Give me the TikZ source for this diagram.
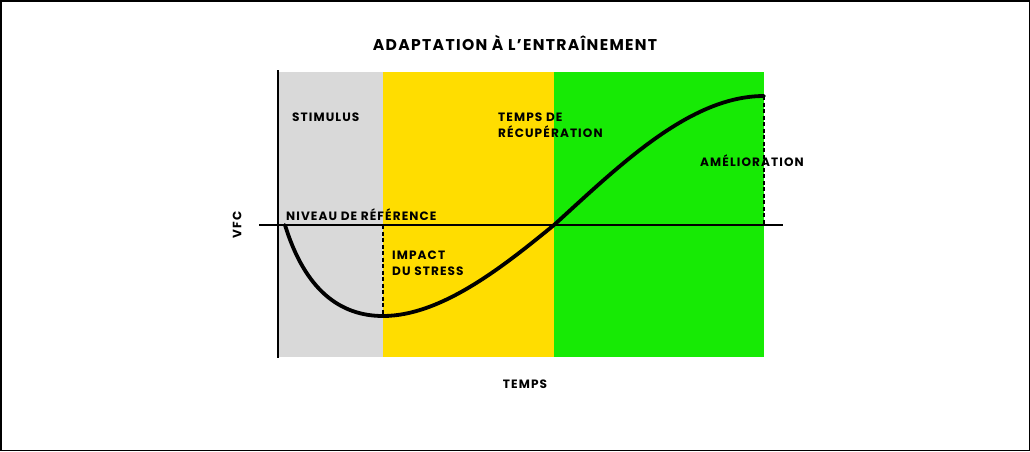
\documentclass[tikz,border=0pt]{standalone}
\usepackage{fontspec}
\setmainfont{Poppins}[UprightFont=*-SemiBold,BoldFont=*-Bold]
\newfontfamily\lblfont{Poppins}[UprightFont=*-Bold,LetterSpace=9]
\newfontfamily\ttlfont{Poppins}[UprightFont=*-Bold,LetterSpace=8.5]
\definecolor{zgray}{HTML}{D9D9D9}
\definecolor{zyellow}{HTML}{FFDD00}
\definecolor{zgreen}{HTML}{17EA05}
\begin{document}
\begin{tikzpicture}[x=1pt,y=-1pt,
  lbl/.style={font=\lblfont\fontsize{12.1}{16}\selectfont,inner sep=0pt,align=left,text=black},
  axisline/.style={line width=2.8pt,black},
  curveline/.style={line width=3.8pt,black,line cap=round},
  dashline/.style={line width=1.4pt,black,dash pattern=on 4pt off 2.5pt}]
\useasboundingbox (0,0) rectangle (1030,451);
\draw[line width=1.5pt] (0.75,0.75) rectangle (1029.25,450.25);
\fill[zgray] (279,72) rectangle (383,357);
\fill[zyellow] (383,72) rectangle (554,357);
\fill[zgreen] (554,72) rectangle (764,357);
\coordinate (ytop) at (278,70);
\coordinate (ybot) at (278,358);
\coordinate (xl) at (259,225);
\coordinate (xr) at (783,225);
\coordinate (c0) at (285,225);
\coordinate (cmin) at (383,316);
\coordinate (cmid) at (554,225);
\coordinate (cmax) at (764,96);
\coordinate (d1) at (383,225);
\coordinate (d2) at (764,225);
\draw[dashline] (d1) -- (cmin);
\draw[dashline] (cmax) -- (d2);
\draw[axisline] (ytop) -- (ybot);
\draw[axisline] (xl) -- (xr);
\draw[curveline] (c0) .. controls (305,290) and (340,316) .. (cmin)
  .. controls (442,316) and (505,265) .. (cmid)
  .. controls (620,165) and (690,96) .. (cmax);
\node[font=\ttlfont\fontsize{15.6}{18}\selectfont,inner sep=0pt] (title) at (515,43) {ADAPTATION À L’ENTRAÎNEMENT};
\node[lbl,anchor=west] (stim) at (292,117) {STIMULUS};
\node[lbl,anchor=west] (rec) at (498,125) {TEMPS DE\\RÉCUPÉRATION};
\node[lbl,anchor=west] (amel) at (700,161) {AMÉLIORATION};
\node[lbl,anchor=west] (niv) at (286,215) {NIVEAU DE RÉFÉRENCE};
\node[lbl,anchor=west] (imp) at (392,263) {IMPACT\\DU STRESS};
\node[lbl,rotate=90] (vfc) at (237,225) {VFC};
\node[lbl] (temps) at (525,384) {TEMPS};
\end{tikzpicture}
\end{document}
